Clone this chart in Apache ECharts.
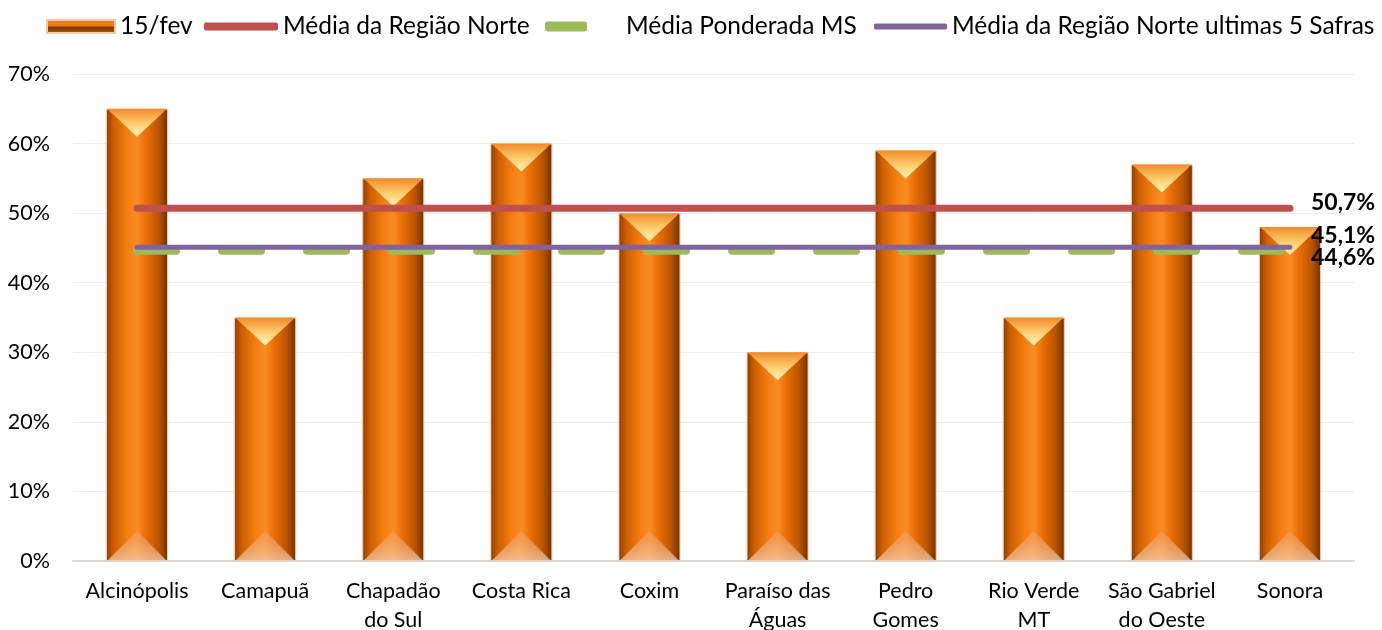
<!DOCTYPE html>
<html><head><meta charset="utf-8">
<script src="https://cdn.jsdelivr.net/npm/echarts@6/dist/echarts.min.js"></script>
<style>html,body{margin:0;padding:0;background:#fff}#c{width:1382px;height:630px}</style>
</head><body><div id="c"></div>
<script>
const categories = ['Alcinópolis','Camapuã','Chapadão\ndo Sul','Costa Rica','Coxim','Paraíso das\nÁguas','Pedro\nGomes','Rio Verde\nMT','São Gabriel\ndo Oeste','Sonora'];
const values15fev = [65,35,55,60,50,30,59,35,57,48];
const mediaNorte = 50.7;
const mediaPonderadaMS = 44.6;
const mediaNorte5Safras = 45.1;
const yTicks = [0,10,20,30,40,50,60,70];

const FONT = 'Lato';
const fmt = v => v.toFixed(1).replace('.', ',') + '%';
const constLine = v => categories.map(() => v);

const barGrad = new echarts.graphic.LinearGradient(0,0,1,0,[
  {offset:0, color:'#8a3c00'},
  {offset:0.12, color:'#cc5e00'},
  {offset:0.35, color:'#f47e12'},
  {offset:0.5, color:'#fb8c22'},
  {offset:0.65, color:'#e86e05'},
  {offset:0.85, color:'#bb5400'},
  {offset:1, color:'#6e3000'}
]);
const triGrad = new echarts.graphic.LinearGradient(0,0,0,1,[
  {offset:0, color:'#f08a2a'},
  {offset:0.55, color:'#ffd070'},
  {offset:1, color:'#fff4c0'}
]);
const baseGrad = new echarts.graphic.LinearGradient(0,0,0,1,[
  {offset:0, color:'rgba(240,170,120,0.35)'},
  {offset:1, color:'rgba(245,205,175,0.75)'}
]);
const legendBarGrad = new echarts.graphic.LinearGradient(0,0,0,1,[
  {offset:0, color:'#f07c18'},
  {offset:0.45, color:'#f07c18'},
  {offset:0.55, color:'#7a3a00'},
  {offset:0.7, color:'#8a4200'},
  {offset:1, color:'#c06a20'}
]);

const chart = echarts.init(document.getElementById('c'));
const legendText = {fontFamily: FONT, fontSize: 24.5, color:'#000'};
chart.setOption({
  animation: false,
  textStyle: {fontFamily: FONT},
  grid: {left: 73, right: 28, top: 74, bottom: 69, outerBoundsMode: 'none', containLabel: false},
  legend: [
    {left: 41, top: 9, itemWidth: 68, itemHeight: 13, textStyle: legendText,
     data: [{name:'15/fev', icon:'rect', itemStyle:{color: legendBarGrad}}]},
    {left: 199, top: 9, itemWidth: 74, itemHeight: 8, textStyle: legendText,
     data: [{name:'Média da Região Norte', icon:'roundRect'}]},
    {left: 540, top: 9, itemWidth: 42, itemHeight: 10, textStyle: Object.assign({padding:[0,0,0,34]}, legendText),
     data: [{name:'Média Ponderada MS', icon:'roundRect'}]},
    {left: 869, top: 9, itemWidth: 73, itemHeight: 6, textStyle: legendText,
     data: [{name:'Média da Região Norte ultimas 5 Safras', icon:'roundRect'}]}
  ],
  xAxis: {
    type: 'category', data: categories,
    axisLine: {lineStyle: {color:'#d9d9d9', width: 2}},
    axisTick: {show: false},
    axisLabel: {fontFamily: FONT, fontSize: 21.5, color:'#000', lineHeight: 29, margin: 16, interval: 0}
  },
  yAxis: {
    type: 'value', min: 0, max: 70, interval: 10,
    axisLabel: {formatter: '{value}%', fontFamily: FONT, fontSize: 21.5, color:'#000', margin: 23},
    splitLine: {lineStyle: {color:'#ececec', width: 1}},
    axisLine: {show: false}, axisTick: {show: false}
  },
  series: [
    {name:'15/fev', type:'bar', data: values15fev, barWidth: 62, z: 2,
     itemStyle: {color: barGrad, borderColor:'#f6c9a6', borderWidth: 1}},
    {name:'topo', type:'pictorialBar', data: values15fev, symbol:'path://M0,0 L2,0 L1,1 Z',
     symbolSize: [60, 28], symbolPosition: 'end', barGap: '-100%', z: 3,
     itemStyle: {color: triGrad}, silent: true},
    {name:'base', type:'pictorialBar', data: values15fev, symbol:'path://M0,1 L2,1 L1,0 Z',
     symbolSize: [60, 30], symbolPosition: 'start', barGap: '-100%', z: 3,
     itemStyle: {color: baseGrad}, silent: true},
    {name:'Média da Região Norte', type:'line', data: constLine(mediaNorte), symbol:'none', z: 5,
     color:'#c0504d', lineStyle:{color:'#c0504d', width: 7, cap:'round'},
     endLabel: {show: true, formatter: () => fmt(mediaNorte), fontFamily: FONT, fontSize: 23, fontWeight:'bold', color:'#000', distance: 21, offset:[0,-6]}},
    {name:'Média Ponderada MS', type:'line', data: constLine(mediaPonderadaMS), symbol:'none', z: 4,
     color:'#9bbb59', lineStyle:{color:'#9bbb59', width: 8, type:[39, 46], cap:'round'},
     endLabel: {show: true, formatter: () => fmt(mediaPonderadaMS), fontFamily: FONT, fontSize: 23, fontWeight:'bold', color:'#000', distance: 21, offset:[0,7]}},
    {name:'Média da Região Norte ultimas 5 Safras', type:'line', data: constLine(mediaNorte5Safras), symbol:'none', z: 6,
     color:'#8064a2', lineStyle:{color:'#8064a2', width: 5, cap:'round'},
     endLabel: {show: true, formatter: () => fmt(mediaNorte5Safras), fontFamily: FONT, fontSize: 23, fontWeight:'bold', color:'#000', distance: 21, offset:[0,-12]}}
  ]
});
</script></body></html>
